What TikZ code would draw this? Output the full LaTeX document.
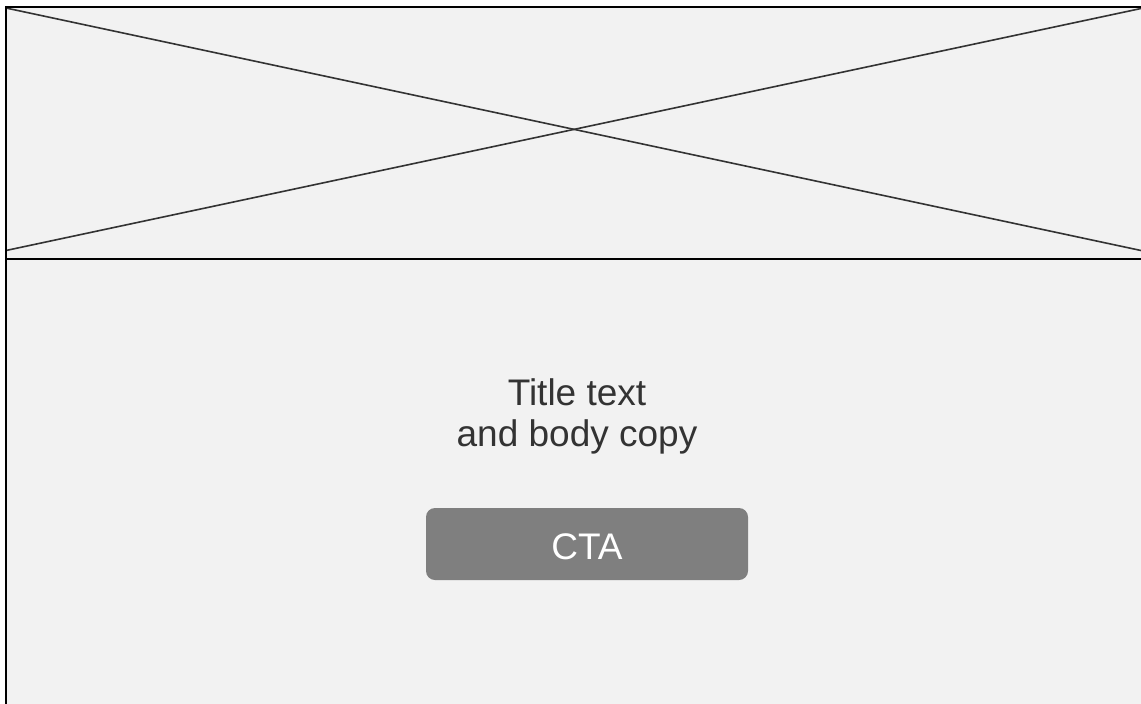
\documentclass[tikz,border=0pt]{standalone}
\usepackage{fontspec}
\setmainfont{Liberation Sans}
\definecolor{panelgray}{HTML}{F2F2F2}
\definecolor{inkgray}{HTML}{333333}
\definecolor{ctagray}{HTML}{7F7F7F}
\tikzset{
  frameline/.style={draw=black, line width=2.4pt},
  crossline/.style={draw=inkgray, line width=1.6pt},
  bodytext/.style={inner sep=0pt, align=center, text=inkgray,
    font=\fontsize{37}{41.5}\selectfont},
  ctabutton/.style={fill=ctagray, rounded corners=9pt, inner sep=0pt,
    minimum width=322pt, minimum height=72pt, text=white,
    text height=33.5pt, text depth=3.5pt,
    font=\fontsize{37}{40}\selectfont}
}
\begin{document}
\begin{tikzpicture}[x=1pt, y=-1pt]
  \useasboundingbox (0,0) rectangle (1141,704);
  \fill[white] (0,0) rectangle (1141,704);
  % card background
  \fill[panelgray] (6,7) rectangle (1141,704);
  % image placeholder corners
  \coordinate (imgTL) at (6,8);
  \coordinate (imgTR) at (1141,8.5);
  \coordinate (imgBL) at (6,250.5);
  \coordinate (imgBR) at (1141,250.5);
  \draw[crossline] (imgTL) -- (imgBR);
  \draw[crossline] (imgBL) -- (imgTR);
  % card frame and divider
  \coordinate (frameBL) at (6,704);
  \coordinate (frameTL) at (6,7);
  \coordinate (frameTR) at (1141,7);
  \coordinate (divL) at (6,259);
  \coordinate (divR) at (1141,259);
  \draw[frameline] (frameBL) -- (frameTL) -- (frameTR);
  \draw[frameline] (divL) -- (divR);
  % copy and call to action
  \node[bodytext] (copy) at (577,416.5) {Title text\\and body copy};
  \node[ctabutton] (cta) at (587,544) {CTA};
\end{tikzpicture}
\end{document}
